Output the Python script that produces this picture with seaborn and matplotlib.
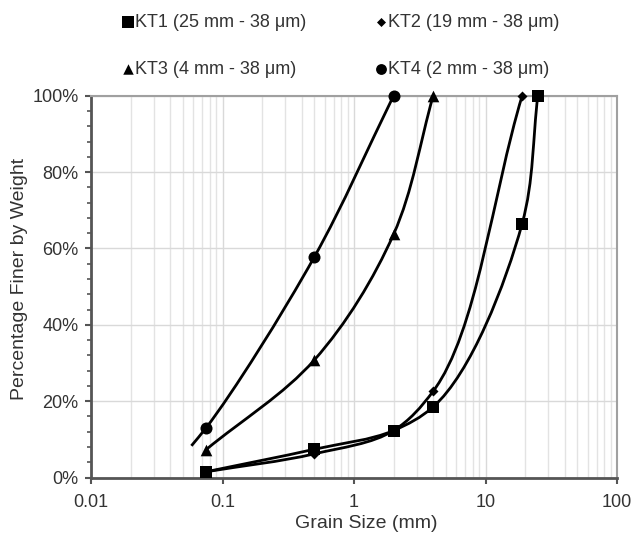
import numpy as np
import pandas as pd
import matplotlib
matplotlib.use("Agg")
import matplotlib.pyplot as plt
import seaborn as sns
from matplotlib.path import Path
from matplotlib.patches import PathPatch
from matplotlib.ticker import FixedLocator, MultipleLocator, NullFormatter

# ---------------- data ----------------
series_names = ["KT1 (25 mm - 38 μm)", "KT2 (19 mm - 38 μm)",
                "KT3 (4 mm - 38 μm)", "KT4 (2 mm - 38 μm)"]

kt1_size = [0.075, 0.5, 2, 4, 19, 25]
kt1_pass = [1.5, 7.4, 12.3, 18.5, 66.5, 100]

kt2_size = [0.075, 0.5, 2, 4, 19]
kt2_pass = [1.5, 6.2, 12.3, 22.6, 100]

kt3_size = [0.075, 0.5, 2, 4]
kt3_pass = [7.3, 30.8, 63.7, 100]

kt4_size = [0.075, 0.5, 2]
kt4_pass = [13.0, 57.8, 100]
# KT4 curve continues slightly below the first marker
kt4_line_size = [0.058, 0.075, 0.5, 2]
kt4_line_pass = [8.3, 13.0, 57.8, 100]

x_ticks = [0.01, 0.1, 1, 10, 100]
x_tick_labels = ["0.01", "0.1", "1", "10", "100"]
y_ticks = [0, 20, 40, 60, 80, 100]
y_tick_labels = ["0%", "20%", "40%", "60%", "80%", "100%"]

# ---------------- style ----------------
sns.set_style("white")
plt.rcParams["font.family"] = ["Liberation Sans", "DejaVu Sans"]
TXT = "#333333"

fig = plt.figure(figsize=(6.31, 5.39), dpi=100)
ax = fig.add_axes([91 / 631, 1 - 477.5 / 539, 526 / 631, 381.8 / 539])
ax.set_xscale("log")
ax.set_xlim(0.01, 100)
ax.set_ylim(0, 100)

# smoothed curve (Catmull-Rom -> cubic Bezier, built in display-like units)
SX, SY = 131.5, 3.818


def smooth_patch(xs, ys, alpha=0.75):
    P = np.column_stack([np.log10(xs) * SX, np.asarray(ys, float) * SY])
    ext = np.vstack([2 * P[0] - P[1], P, 2 * P[-1] - P[-2]])
    verts = [P[0]]
    codes = [Path.MOVETO]
    for i in range(len(P) - 1):
        p0, p1, p2, p3 = ext[i:i + 4]
        d0 = np.linalg.norm(p1 - p0) ** alpha
        d1 = np.linalg.norm(p2 - p1) ** alpha
        d2 = np.linalg.norm(p3 - p2) ** alpha
        m1 = (p1 - p0) / d0 - (p2 - p0) / (d0 + d1) + (p2 - p1) / d1
        m2 = (p2 - p1) / d1 - (p3 - p1) / (d1 + d2) + (p3 - p2) / d2
        m1 *= d1
        m2 *= d1
        verts += [p1 + m1 / 3, p2 - m2 / 3, p2]
        codes += [Path.CURVE4] * 3
    V = np.array(verts)
    V = np.column_stack([10 ** (V[:, 0] / SX), V[:, 1] / SY])
    return PathPatch(Path(V, codes), facecolor="none", edgecolor="black",
                     lw=2.0, zorder=3, transform=ax.transData, clip_on=False)


for xs, ys in [(kt1_size, kt1_pass), (kt2_size, kt2_pass),
               (kt3_size, kt3_pass), (kt4_line_size, kt4_line_pass)]:
    ax.add_patch(smooth_patch(xs, ys))

marker_specs = [("s", 85), ("D", 26), ("^", 70), ("o", 75)]
for (xs, ys), name, (mk, s) in zip(
        [(kt1_size, kt1_pass), (kt2_size, kt2_pass),
         (kt3_size, kt3_pass), (kt4_size, kt4_pass)],
        series_names, marker_specs):
    df = pd.DataFrame({"size": xs, "pass": ys})
    sns.scatterplot(data=df, x="size", y="pass", marker=mk, s=s,
                    color="black", linewidth=0, zorder=4, clip_on=False,
                    label=name, ax=ax, legend=False)

# ---------------- axes ----------------
ax.xaxis.set_major_locator(FixedLocator(x_ticks))
ax.set_xticklabels(x_tick_labels)
ax.xaxis.set_minor_locator(FixedLocator(
    [m * 10.0 ** e for e in range(-2, 2) for m in range(2, 10)]))
ax.xaxis.set_minor_formatter(NullFormatter())
ax.yaxis.set_major_locator(FixedLocator(y_ticks))
ax.set_yticklabels(y_tick_labels)
ax.yaxis.set_minor_locator(MultipleLocator(4))

ax.grid(which="major", axis="both", color="#d9d9d9", lw=1.0, zorder=0)
ax.grid(which="minor", axis="x", color="#e3e3e3", lw=1.0, zorder=0)
ax.set_axisbelow(True)

for side in ["left", "bottom"]:
    ax.spines[side].set_color("#555555")
    ax.spines[side].set_linewidth(2.0)
for side in ["top", "right"]:
    ax.spines[side].set_color("#a0a0a0")
    ax.spines[side].set_linewidth(1.5)
    ax.spines[side].set_visible(True)

ax.tick_params(axis="x", which="major", direction="out", length=4, width=1.5,
               color="#555555", labelsize=13, labelcolor=TXT, pad=8, bottom=True)
ax.tick_params(axis="x", which="minor", length=0)
ax.tick_params(axis="y", which="major", direction="out", length=4, width=1.5,
               color="#555555", labelsize=13, labelcolor=TXT, pad=5, left=True)
ax.tick_params(axis="y", which="minor", direction="out", length=3, width=1.2,
               color="#555555", left=True)

ax.set_xlabel("Grain Size (mm)", fontsize=14, color=TXT)
ax.xaxis.set_label_coords(0.524, -0.098)
ax.set_ylabel("Percentage Finer by Weight", fontsize=14, color=TXT)
ax.yaxis.set_label_coords(-0.119, 0.52)

# ---------------- legend ----------------
h, l = ax.get_legend_handles_labels()
order = [0, 2, 1, 3]
leg = fig.legend([h[i] for i in order], [l[i] for i in order],
                 loc="upper left", bbox_to_anchor=(123 / 631, 1 - 14 / 539),
                 ncol=2, frameon=False, fontsize=13, borderpad=0,
                 borderaxespad=0, handlelength=0.5, handletextpad=0.15,
                 columnspacing=3.92, labelspacing=1.67, markerscale=0.9)
for t in leg.get_texts():
    t.set_color(TXT)

fig.savefig("out.png", dpi=100)
